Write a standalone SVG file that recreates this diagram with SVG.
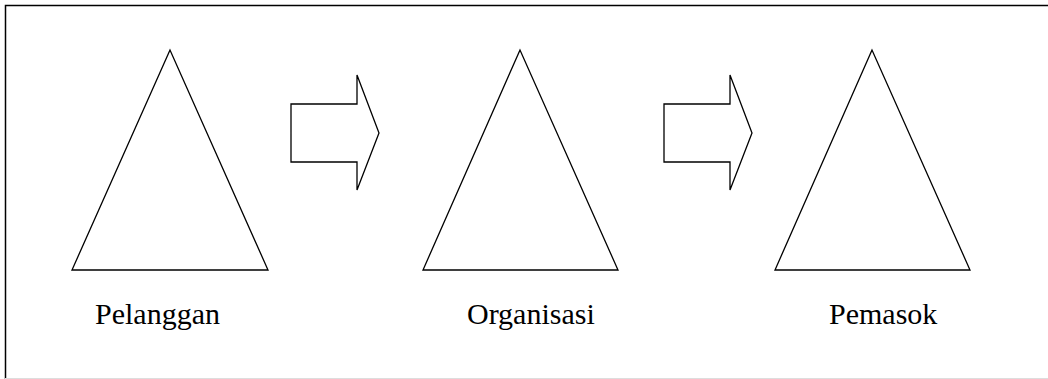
<svg xmlns="http://www.w3.org/2000/svg" width="1048" height="379" viewBox="0 0 1048 379">
<style>
.s{fill:#fff;stroke:#000;stroke-width:1.3;stroke-linejoin:miter}
.t{font-family:"Liberation Serif","Times New Roman",serif;font-size:30px;fill:#000}
</style>
<rect width="1048" height="379" fill="#fff"/>
<g id="frame">
<path d="M5.5,379 V5.5 H1048" fill="none" stroke="#000" stroke-width="1.5"/>
<line x1="5" y1="378.5" x2="1048" y2="378.5" stroke="#ddd" stroke-width="1"/>
</g>
<g id="pelanggan">
<polygon class="s" points="170,50 72,270 268,270"/>
<text class="t" x="95" y="324">Pelanggan</text>
</g>
<g id="organisasi">
<polygon class="s" points="520,50 423,270 618,270"/>
<text class="t" x="467" y="324">Organisasi</text>
</g>
<g id="pemasok">
<polygon class="s" points="872,50 775,270 970,270"/>
<text class="t" x="829" y="324">Pemasok</text>
</g>
<g id="connectors">
<polygon class="s" points="291,104 357,104 357,75 379,133 357,190 357,162 291,162"/>
<polygon class="s" points="664,104 730,104 730,75 752,133 730,190 730,162 664,162"/>
</g>
</svg>
